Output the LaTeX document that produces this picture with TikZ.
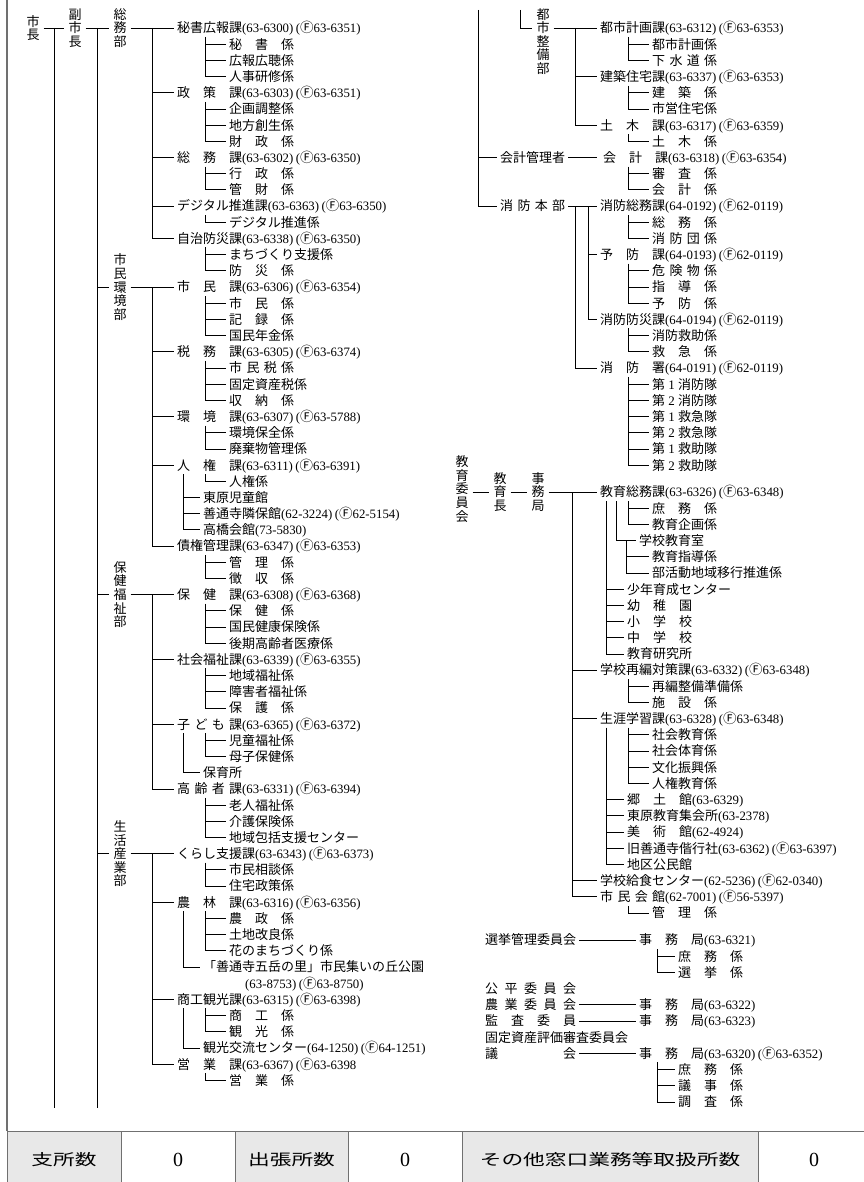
\documentclass[tikz,border=0pt]{standalone}
\usepackage{fontspec}
\usepackage{graphicx}
\setmainfont{Noto Sans CJK JP}
\newfontfamily\numfont{Liberation Serif}
\definecolor{rule}{RGB}{112,112,112}
\definecolor{cell}{RGB}{232,232,232}
\newcommand\jf{\fontsize{13pt}{13.6pt}\selectfont}
\newcommand\tf{\fontsize{15.5pt}{16pt}\selectfont}
\newcommand\tn[1]{{\numfont\fontsize{12.8pt}{12pt}\selectfont(#1)}}
\newcommand\fxopen[1]{{\numfont\fontsize{12.8pt}{12pt}\selectfont\kern2.5pt(}{\fontsize{13.5pt}{12pt}\selectfont Ⓕ}{\numfont\fontsize{12.8pt}{12pt}\selectfont #1}}
\newcommand\fx[1]{\fxopen{#1}{\numfont\fontsize{12.8pt}{12pt}\selectfont)}}
\newcommand\wide[2]{\makebox[#1em][s]{#2}}
\newcommand\zero{{\numfont\fontsize{20pt}{20pt}\selectfont 0}}
\tikzstyle{lbl}=[anchor=west,inner xsep=3pt,inner ysep=0pt,text height=11.4pt,text depth=1.6pt,font=\jf]
\tikzstyle{vlbl}=[align=center,inner xsep=4pt,inner ysep=0pt,font=\jf]
\tikzstyle{link}=[draw,line width=0.8pt]
\tikzstyle{cellbox}=[draw=rule,line width=0.9pt,minimum height=58pt,inner sep=0pt,font=\tf]
\tikzstyle{graycell}=[cellbox,fill=cell]

\begin{document}
\begin{tikzpicture}[x=1pt,y=-1pt]
    \useasboundingbox (0,0) rectangle (863,1182);
    \draw[rule,line width=1.6pt] (7,0) -- (7,1131);

    % left column
    \node[vlbl] (shicho) at (33,28) {市\\長};
    \node[vlbl] (fuku) at (75,28) {副\\市\\長};
    \node[vlbl] (somu) at (120,28) {総\\務\\部};
    \node[vlbl] (shiminbu) at (120,{28+16.19*16}) {市\\民\\環\\境\\部};
    \node[vlbl] (hokenbu) at (120,{28+16.19*35}) {保\\健\\福\\祉\\部};
    \node[vlbl] (seikatsu) at (120,{28+16.19*51}) {生\\活\\産\\業\\部};
    \coordinate (m1) at (54,28);
    \coordinate (m1end) at (54,1108);
    \coordinate (f1) at (97,28);
    \coordinate (f1end) at (97,1108);

    \foreach \row/\txt in {0/{秘書広報課\tn{63-6300}\fx{63-6351}}, 4/{\wide5{政 策 課}\tn{63-6303}\fx{63-6351}},
                           8/{\wide5{総 務 課}\tn{63-6302}\fx{63-6350}}, 11/{デジタル推進課\tn{63-6363}\fx{63-6350}},
                           13/{自治防災課\tn{63-6338}\fx{63-6350}}, 16/{\wide5{市 民 課}\tn{63-6306}\fx{63-6354}},
                           20/{\wide5{税 務 課}\tn{63-6305}\fx{63-6374}}, 24/{\wide5{環 境 課}\tn{63-6307}\fx{63-5788}},
                           27/{\wide5{人 権 課}\tn{63-6311}\fx{63-6391}}, 32/{債権管理課\tn{63-6347}\fx{63-6353}},
                           35/{\wide5{保 健 課}\tn{63-6308}\fx{63-6368}}, 39/{社会福祉課\tn{63-6339}\fx{63-6355}},
                           43/{\wide5{子 ど も 課}\tn{63-6365}\fx{63-6372}}, 47/{\wide5{高 齢 者 課}\tn{63-6331}\fx{63-6394}},
                           51/{くらし支援課\tn{63-6343}\fx{63-6373}}, 54/{\wide5{農 林 課}\tn{63-6316}\fx{63-6356}},
                           60/{商工観光課\tn{63-6315}\fx{63-6398}}, 64/{\wide5{営 業 課}\tn{63-6367}\fxopen{63-6398}}}
        \node[lbl] (L\row) at (174,{28+16.19*\row}) {\txt};

    \foreach \row/\txt in {1/{\wide5{秘 書 係}}, 2/広報広聴係, 3/人事研修係, 5/企画調整係, 6/地方創生係,
                           7/{\wide5{財 政 係}}, 9/{\wide5{行 政 係}}, 10/{\wide5{管 財 係}}, 12/デジタル推進係,
                           14/まちづくり支援係, 15/{\wide5{防 災 係}}, 17/{\wide5{市 民 係}}, 18/{\wide5{記 録 係}},
                           19/国民年金係, 21/{\wide5{市 民 税 係}}, 22/固定資産税係, 23/{\wide5{収 納 係}},
                           25/環境保全係, 26/廃棄物管理係, 28/人権係, 33/{\wide5{管 理 係}}, 34/{\wide5{徴 収 係}},
                           36/{\wide5{保 健 係}}, 37/国民健康保険係, 38/後期高齢者医療係, 40/地域福祉係,
                           41/障害者福祉係, 42/{\wide5{保 護 係}}, 44/児童福祉係, 45/母子保健係, 48/老人福祉係,
                           49/介護保険係, 50/地域包括支援センター, 52/市民相談係, 53/住宅政策係,
                           55/{\wide5{農 政 係}}, 56/土地改良係, 57/花のまちづくり係, 61/{\wide5{商 工 係}},
                           62/{\wide5{観 光 係}}, 65/{\wide5{営 業 係}}}
        \node[lbl] (L\row) at (226,{28+16.19*\row}) {\txt};

    \foreach \row/\txt in {29/東原児童館, 30/{善通寺隣保館\tn{62-3224}\fx{62-5154}}, 31/{高橋会館\tn{73-5830}},
                           46/保育所, 58/「善通寺五岳の里」市民集いの丘公園,
                           63/{観光交流センター\tn{64-1250}\fx{64-1251}}}
        \node[lbl] (L\row) at (200,{28+16.19*\row}) {\txt};
    \node[lbl] (L59) at (242,{28+16.19*59}) {\tn{63-8753}\fx{63-8750}};

    \draw[link] (shicho.east) -- (fuku.west);
    \draw[link] (m1) -- (m1end);
    \draw[link] (fuku.east) -- (somu.west);
    \draw[link] (f1) -- (f1end);
    \foreach \d in {shiminbu,hokenbu,seikatsu}
        \draw[link] (f1 |- \d.west) -- (\d.west);
    \foreach \d/\row in {somu/0,shiminbu/16,hokenbu/35,seikatsu/51}
        \draw[link] (\d.east) -- (L\row.west);
    \foreach \first/\last in {0/13,16/32,35/47,51/64}
        \draw[link] ([xshift=-22pt]L\first.west) |- (L\last.west);
    \foreach \row in {4,8,11,20,24,27,39,43,54,60}
        \draw[link] ([xshift=-22pt]L\row.west) -- (L\row.west);
    \foreach \ka/\last in {0/3,4/7,8/10,11/12,13/15,16/19,20/23,24/26,27/28,32/34,35/38,39/42,
                           43/45,47/50,51/53,54/57,60/62,64/65}
        \draw[link] ([shift={(31pt,-9pt)}]L\ka.west) |- (L\last.west);
    \foreach \row in {1,2,5,6,9,14,17,18,21,22,25,33,36,37,40,41,44,48,49,52,55,56,61}
        \draw[link] ([xshift=-21pt]L\row.west) -- (L\row.west);
    \foreach \ka/\last in {27/31,43/46,54/58,60/63}
        \draw[link] ([shift={(9pt,-9pt)}]L\ka.west) |- (L\last.west);
    \foreach \row in {29,30}
        \draw[link] ([xshift=-17pt]L\row.west) -- (L\row.west);

    % right column
    \coordinate (m2) at (478,10);
    \coordinate (f2) at (520,10);
    \node[vlbl] (toshi) at (543,41.5) {都\\市\\整\\備\\部};
    \node[lbl] (kaikan) at (497,{28+16.19*8}) {会計管理者};
    \node[lbl] (honbu) at (497,{28+16.19*11}) {\wide5{消 防 本 部}};

    \foreach \row/\txt in {0/{都市計画課\tn{63-6312}\fx{63-6353}}, 3/{建築住宅課\tn{63-6337}\fx{63-6353}},
                           6/{\wide5{土 木 課}\tn{63-6317}\fx{63-6359}},
                           8/{\kern3pt\wide5{会 計 課}\tn{63-6318}\fx{63-6354}},
                           11/{消防総務課\tn{64-0192}\fx{62-0119}}, 14/{\wide5{予 防 課}\tn{64-0193}\fx{62-0119}},
                           18/{消防防災課\tn{64-0194}\fx{62-0119}}, 21/{\wide5{消 防 署}\tn{64-0191}\fx{62-0119}}}
        \node[lbl] (R\row) at (597,{28+16.19*\row}) {\txt};

    \foreach \row/\txt in {1/都市計画係, 2/{\wide5{下 水 道 係}}, 4/{\wide5{建 築 係}}, 5/市営住宅係,
                           7/{\wide5{土 木 係}}, 9/{\wide5{審 査 係}}, 10/{\wide5{会 計 係}},
                           12/{\wide5{総 務 係}}, 13/{\wide5{消 防 団 係}}, 15/{\wide5{危 険 物 係}},
                           16/{\wide5{指 導 係}}, 17/{\wide5{予 防 係}}, 19/消防救助係, 20/{\wide5{救 急 係}},
                           22/{\wide5{第 {\numfont 1} 消防隊}}, 23/{\wide5{第 {\numfont 2} 消防隊}},
                           24/{\wide5{第 {\numfont 1} 救急隊}}, 25/{\wide5{第 {\numfont 2} 救急隊}},
                           26/{\wide5{第 {\numfont 1} 救助隊}}, 27/{\wide5{第 {\numfont 2} 救助隊}}}
        \node[lbl] (R\row) at (649,{28+16.19*\row}) {\txt};

    \draw[link] (f2) |- (toshi.west |- R0.west);
    \draw[link] (toshi.east |- R0.west) -- (R0.west);
    \draw[link] ([xshift=-22pt]R0.west) |- (R6.west);
    \draw[link] ([xshift=-22pt]R3.west) -- (R3.west);
    \draw[link] (m2) |- (honbu.west);
    \draw[link] (m2 |- kaikan.west) -- (kaikan.west);
    \draw[link] (kaikan.east) -- (R8.west);
    \draw[link] (honbu.east) -- (R11.west);
    \draw[link] ([xshift=-22pt]R11.west) |- (R21.west);
    \draw[link] ([xshift=-9pt]R11.west) |- (R18.west);
    \draw[link] ([xshift=-9pt]R14.west) -- (R14.west);
    \foreach \ka/\last in {0/2,3/5,6/7,8/10,11/13,14/17,18/20,21/27}
        \draw[link] ([shift={(31pt,-9pt)}]R\ka.west) |- (R\last.west);
    \foreach \row in {1,4,9,12,15,16,19,22,23,24,25,26}
        \draw[link] ([xshift=-21pt]R\row.west) -- (R\row.west);

    % board of education
    \node[vlbl] (iinkai) at (462,489) {教\\育\\委\\員\\会};
    \node[vlbl] (kyoikucho) at (500,492) {教\\育\\長};
    \node[vlbl] (jimukyoku) at (538,492) {事\\務\\局};

    \foreach \row/\txt in {0/{教育総務課\tn{63-6326}\fx{63-6348}}, 11/{学校再編対策課\tn{63-6332}\fx{63-6348}},
                           14/{生涯学習課\tn{63-6328}\fx{63-6348}}, 24/{学校給食センター\tn{62-5236}\fx{62-0340}},
                           25/{\wide5{市 民 会 館}\tn{62-7001}\fx{56-5397}}}
        \node[lbl] (E\row) at (597,{492+16.19*\row}) {\txt};
    \foreach \row/\txt in {1/{\wide5{庶 務 係}}, 2/教育企画係, 4/教育指導係, 5/部活動地域移行推進係,
                           12/再編整備準備係, 13/{\wide5{施 設 係}}, 15/社会教育係, 16/社会体育係,
                           17/文化振興係, 18/人権教育係, 26/{\wide5{管 理 係}}}
        \node[lbl] (E\row) at (649,{492+16.19*\row}) {\txt};
    \foreach \row/\txt in {6/少年育成センター, 7/{\wide5{幼 稚 園}}, 8/{\wide5{小 学 校}}, 9/{\wide5{中 学 校}},
                           10/教育研究所, 19/{\wide5{郷 土 館}\tn{63-6329}}, 20/{東原教育集会所\tn{63-2378}},
                           21/{\wide5{美 術 館}\tn{62-4924}}, 22/{旧善通寺偕行社\tn{63-6362}\fx{63-6397}},
                           23/地区公民館}
        \node[lbl] (E\row) at (624,{492+16.19*\row}) {\txt};
    \node[lbl] (E3) at (636,{492+16.19*3}) {学校教育室};

    \draw[link] (iinkai.east |- kyoikucho.west) -- (kyoikucho.west);
    \draw[link] (kyoikucho.east) -- (jimukyoku.west);
    \draw[link] (jimukyoku.east) -- (E0.west);
    \draw[link] ([xshift=-25pt]E0.west) |- (E25.west);
    \foreach \row in {11,14,24}
        \draw[link] ([xshift=-25pt]E\row.west) -- (E\row.west);
    \foreach \ka/\last in {0/2,11/13,14/18,25/26}
        \draw[link] ([shift={(31pt,-9pt)}]E\ka.west) |- (E\last.west);
    \foreach \row in {1,12,15,16,17}
        \draw[link] ([xshift=-21pt]E\row.west) -- (E\row.west);
    \draw[link] ([shift={(19pt,-9pt)}]E0.west) |- (E3.west);
    \draw[link] ([xshift=-10pt]E3.west) |- (E5.west);
    \draw[link] ([xshift=-23pt]E4.west) -- (E4.west);
    \foreach \ka/\last in {0/10,14/23}
        \draw[link] ([shift={(9pt,-9pt)}]E\ka.west) |- (E\last.west);
    \foreach \row in {6,7,8,9,19,20,21,22}
        \draw[link] ([xshift=-18pt]E\row.west) -- (E\row.west);

    % committees
    \foreach \row/\txt in {0/選挙管理委員会, 3/{\wide7{公 平 委 員 会}}, 4/{\wide7{農 業 委 員 会}},
                           5/{\wide7{監 査 委 員}}, 6/固定資産評価審査委員会, 7/{\wide7{議 会}}}
        \node[lbl] (C\row) at (482,{940+16.19*\row}) {\txt};
    \foreach \row/\txt in {0/{\wide5{事 務 局}\tn{63-6321}}, 4/{\wide5{事 務 局}\tn{63-6322}},
                           5/{\wide5{事 務 局}\tn{63-6323}}, 7/{\wide5{事 務 局}\tn{63-6320}\fx{63-6352}}}
        \node[lbl] (J\row) at (636,{940+16.19*\row}) {\txt};
    \foreach \row/\txt in {1/{\wide5{庶 務 係}}, 2/{\wide5{選 挙 係}}, 8/{\wide5{庶 務 係}},
                           9/{\wide5{議 事 係}}, 10/{\wide5{調 査 係}}}
        \node[lbl] (G\row) at (675,{940+16.19*\row}) {\txt};

    \foreach \row in {0,4,5,7}
        \draw[link] (C\row.east) -- (J\row.west);
    \foreach \ka/\last in {0/2,7/10}
        \draw[link] ([shift={(21pt,-9pt)}]J\ka.west) |- (G\last.west);
    \foreach \row in {1,8,9}
        \draw[link] ([xshift=-18pt]G\row.west) -- (G\row.west);

    % counts
    \node[graycell,minimum width=114pt] (shisho) at (64,1160) {\scalebox{1.4}[1]{支所数}};
    \node[cellbox,minimum width=114pt] (shishonum) at (178,1160) {\zero};
    \node[graycell,minimum width=113pt] (shutcho) at (291.5,1160) {\scalebox{1.4}[1]{出張所数}};
    \node[cellbox,minimum width=114pt] (shutchonum) at (405,1160) {\zero};
    \node[graycell,minimum width=296pt] (madoguchi) at (610,1160) {\scalebox{1.4}[1]{その他窓口業務等取扱所数}};
    \node[cellbox,minimum width=112pt] (madoguchinum) at (814,1160) {\zero};
\end{tikzpicture}
\end{document}
